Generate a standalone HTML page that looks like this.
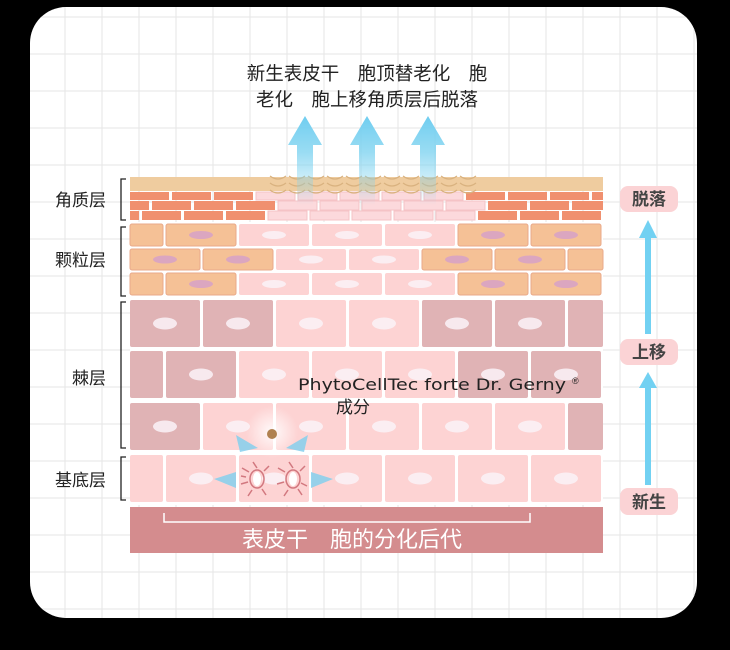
<!DOCTYPE html>
<html><head><meta charset="utf-8"><style>
html,body{margin:0;padding:0;background:#000;width:730px;height:650px;overflow:hidden}
svg{display:block}
text{font-family:"Liberation Sans","Noto Sans CJK SC",sans-serif}
</style></head><body>
<svg id="s" width="730" height="650" viewBox="0 0 730 650" xmlns="http://www.w3.org/2000/svg">
<defs>
<clipPath id="card"><rect x="30" y="7" width="667" height="611" rx="36"/></clipPath>
<linearGradient id="ag" x1="0" y1="1" x2="0" y2="0">
<stop offset="0" stop-color="#7fd3f0" stop-opacity="0"/><stop offset="0.6" stop-color="#7fd3f0" stop-opacity="0.8"/><stop offset="1" stop-color="#6fcdf0"/></linearGradient>
<radialGradient id="glow"><stop offset="0" stop-color="#fff" stop-opacity="0.9"/><stop offset="1" stop-color="#fff" stop-opacity="0"/></radialGradient>
</defs>
<rect x="30" y="7" width="667" height="611" rx="36" fill="#fff"/>
<g id="grid" clip-path="url(#card)" stroke="#e6e6e6" stroke-width="1"></g>
<g id="cells"></g>

<rect x="130" y="177" width="473" height="14" fill="#efcc9f"/>
<g id="bricks"></g>
<g fill="none" stroke="#d9b27f" stroke-width="1.2" id="waves"></g>

<rect x="130" y="507" width="473" height="46" fill="#d48c8e"/>
<path d="M164 513 V522 H530 V513" fill="none" stroke="#fff" stroke-width="1.5"/>
<text x="352" y="547" font-size="22" fill="#fff" text-anchor="middle">表皮干　胞的分化后代</text>

<g font-size="17" fill="#222" text-anchor="end">
<text x="106" y="206">角质层</text>
<text x="106" y="266">颗粒层</text>
<text x="106" y="384">棘层</text>
<text x="106" y="486">基底层</text>
</g>
<g fill="none" stroke="#222" stroke-width="1.3">
<path d="M126 179 H121 V220 H126"/>
<path d="M126 227 H121 V296 H126"/>
<path d="M126 302 H121 V448 H126"/>
<path d="M126 457 H121 V500 H126"/>
</g>

<g font-size="18.5" fill="#222" text-anchor="middle">
<text x="367" y="80">新生表皮干　胞顶替老化　胞</text>
<text x="367" y="106">老化　胞上移角质层后脱落</text>
</g>
<g fill="url(#ag)">
<path d="M297 205 V145 H288 L305 116 L322 145 H313 V205 Z"/>
<path d="M359 205 V145 H350 L367 116 L384 145 H375 V205 Z"/>
<path d="M420 205 V145 H411 L428 116 L445 145 H436 V205 Z"/>
</g>

<g fill="#fbd3d5">
<rect x="620" y="186" width="58" height="26" rx="8"/>
<rect x="620" y="339" width="58" height="26" rx="8"/>
<rect x="620" y="488" width="58" height="27" rx="8"/>
</g>
<g font-size="17" fill="#444" text-anchor="middle" font-weight="bold">
<text x="649" y="205">脱落</text>
<text x="649" y="358">上移</text>
<text x="649" y="508">新生</text>
</g>
<g fill="#72d1f2">
<rect x="645" y="236" width="6" height="98"/><path d="M639 238 L648 220 L657 238 Z"/>
<rect x="645" y="386" width="6" height="99"/><path d="M639 388 L648 372 L657 388 Z"/>
</g>

<circle cx="272" cy="432" r="26" fill="url(#glow)"/>
<circle cx="272" cy="434" r="5" fill="#b08150"/>
<g fill="#86d0ee" opacity="0.85">
<path d="M258 448 L236 435 L240 452 Z"/><path d="M286 448 L308 435 L304 452 Z"/>
<path d="M236 472 L214 479 L236 488 Z"/><path d="M311 472 L333 479 L311 488 Z"/>
</g>
<g fill="none" stroke="#d2787f" stroke-width="1.5">
<ellipse cx="257" cy="479" rx="7" ry="9"/><ellipse cx="293" cy="479" rx="7" ry="9"/>
<path d="M257 468 l-4 -6 M249 472 l-7 -4 M248 482 l-7 2 M252 490 l-4 6 M262 489 l4 6 M264 471 l5 -5 M246 477 l-5 -1"/>
<path d="M293 468 l-4 -6 M285 472 l-7 -4 M284 482 l-7 2 M288 490 l-4 6 M298 489 l4 6 M300 471 l5 -5 M301 483 l6 3"/>
</g>
<ellipse cx="257" cy="479" rx="4" ry="7" fill="#fff"/><ellipse cx="293" cy="479" rx="4" ry="7" fill="#fff"/>
<text x="298" y="390" font-size="16" fill="#222" style="font-family:'DejaVu Sans',sans-serif" textLength="268" lengthAdjust="spacingAndGlyphs">PhytoCellTec forte Dr. Gerny</text>
<text x="572" y="384" font-size="9" fill="#222">®</text>
<text x="336" y="413" font-size="17" fill="#222">成分</text>
</svg>
<script>
var NS="http://www.w3.org/2000/svg";
function el(p,t,a){var e=document.createElementNS(NS,t);for(var k in a)e.setAttribute(k,a[k]);p.insertBefore(e,null);return e;}
var g=document.getElementById('grid');
for(var x=28;x<700;x+=37)el(g,'line',{x1:x,y1:0,x2:x,y2:650});
for(var y=17;y<650;y+=37)el(g,'line',{x1:0,y1:y,x2:730,y2:y});
var c=document.getElementById('cells');
el(c,'rect',{x:130,y:222,width:473,height:283,fill:'#fff'});
function row(y,h,starts,types,w,nw,nh){
 for(var i=0;i<starts.length;i++){
  var x0=starts[i],x1=Math.min(x0+w,603),xs=Math.max(x0,130);
  if(x1<=xs)continue;
  var t=types[i],fill,nf;
  if(t=='o'){fill='#f5c196';nf='#dba6c0';}
  else if(t=='d'){fill='#e0b3b5';nf='#f7e9ee';}
  else {fill='#fdd3d3';nf='#fbeef2';}
  el(c,'rect',{x:xs,y:y,width:x1-xs,height:h,rx:2,fill:fill,stroke:t=='o'?'#e9a98a':'none','stroke-width':1});
  var cx=x0+w/2;
  if(cx>130&&cx<603)el(c,'ellipse',{cx:cx,cy:y+h/2,rx:nw,ry:nh,fill:nf});
 }
}
var A=[130,203,276,349,422,495,568],B=[93,166,239,312,385,458,531];
row(224,22,B,'ooLLLoo',70,12,4);
row(249,21,A,'ooLLooo',70,12,4);
row(273,22,B,'ooLLLoo',70,12,4);
row(300,47,A,'ddLLddd',70,12,6);
row(351,47,B,'ddLLLdd',70,12,6);
row(403,47,A,'dLLLLLd',70,12,6);
row(455,47,B,'LLLLLLL',70,12,6);
var b=document.getElementById('bricks');
var rows=[[192,8,0],[201,9,-20],[211,9,-30]];
rows.forEach(function(r){
 for(var x=130+r[2];x<603;x+=42){
  var xs=Math.max(x,130),xe=Math.min(x+39,603);if(xe<=xs)continue;
  var pale=(x+20>268&&x+20<470);
  el(b,'rect',{x:xs,y:r[0],width:xe-xs,height:r[1],fill:pale?'#fcd9dc':'#f0906f',stroke:pale?'#f5c3c6':'none'});
 }
});
var w=document.getElementById('waves');
for(var x=270;x<465;x+=19){
 [176,183,190].forEach(function(y){el(w,'path',{d:'M'+x+' '+y+' q8 6 16 0'});});
}
</script>
</body></html>
